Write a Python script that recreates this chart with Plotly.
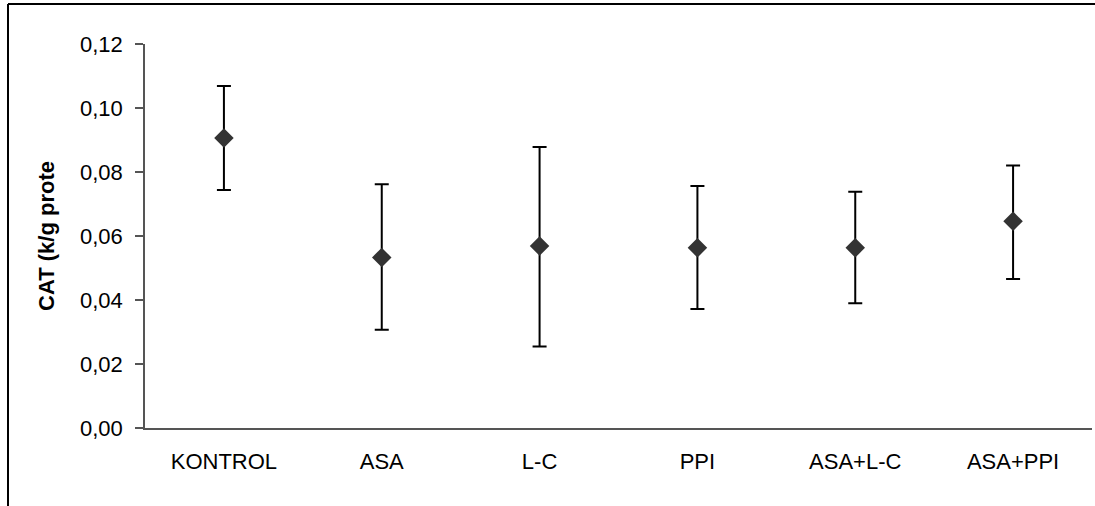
import plotly.graph_objects as go

categories = ["KONTROL", "ASA", "L-C", "PPI", "ASA+L-C", "ASA+PPI"]
means = [0.0906, 0.0533, 0.0569, 0.0563, 0.0563, 0.0646]
upper = [0.1069, 0.0762, 0.0878, 0.0756, 0.0738, 0.0820]
lower = [0.0744, 0.0307, 0.0255, 0.0372, 0.0390, 0.0466]
y_ticks = [0.00, 0.02, 0.04, 0.06, 0.08, 0.10, 0.12]

err_plus = [u - m for u, m in zip(upper, means)]
err_minus = [m - l for m, l in zip(means, lower)]

W, H = 1095, 506
ml, mr, mt, mb = 145, 3, 44, 78
pw = W - ml - mr
ph = H - mt - mb

fig = go.Figure()
fig.add_trace(go.Scatter(
    x=categories, y=means, mode="markers",
    marker=dict(symbol="diamond", size=15, color="#333333"),
    error_y=dict(type="data", symmetric=False, array=err_plus, arrayminus=err_minus,
                 color="black", thickness=2, width=7),
    showlegend=False,
))

# outer frame (partially outside the picture, as in the reference)
fx0 = (8 - ml) / pw
fy1 = (H - mb - 4) / ph
fig.add_shape(type="line", xref="paper", yref="paper", x0=fx0, x1=fx0, y0=fy1, y1=-0.5,
              line=dict(color="black", width=2))
fig.add_shape(type="line", xref="paper", yref="paper", x0=fx0, x1=1.2, y0=fy1, y1=fy1,
              line=dict(color="black", width=2))

font = "Liberation Sans, Arial, sans-serif"
fig.update_layout(
    width=W, height=H,
    margin=dict(l=ml, r=mr, t=mt, b=mb, pad=0),
    paper_bgcolor="white", plot_bgcolor="white",
    separators=",.",
    font=dict(family=font, size=23, color="black"),
    xaxis=dict(type="category", range=[-0.5, 5.5], showline=True, linecolor="#555555",
               linewidth=1.5, showgrid=False, zeroline=False, ticks="",
               tickfont=dict(size=22), ticklabelstandoff=13),
    yaxis=dict(range=[0, 0.12], tickvals=y_ticks, tickformat=".2f", showline=True,
               linecolor="#555555", linewidth=1.5, showgrid=False, zeroline=False,
               ticks="outside", ticklen=8, tickcolor="#555555", tickwidth=1.5,
               tickfont=dict(size=22), ticklabelstandoff=8,
               title=dict(text="<b>CAT (k/g prote</b>", font=dict(size=22), standoff=19)),
)

fig.write_html("out.html", config={"displayModeBar": False},
               post_script="document.body.style.margin='0';")
